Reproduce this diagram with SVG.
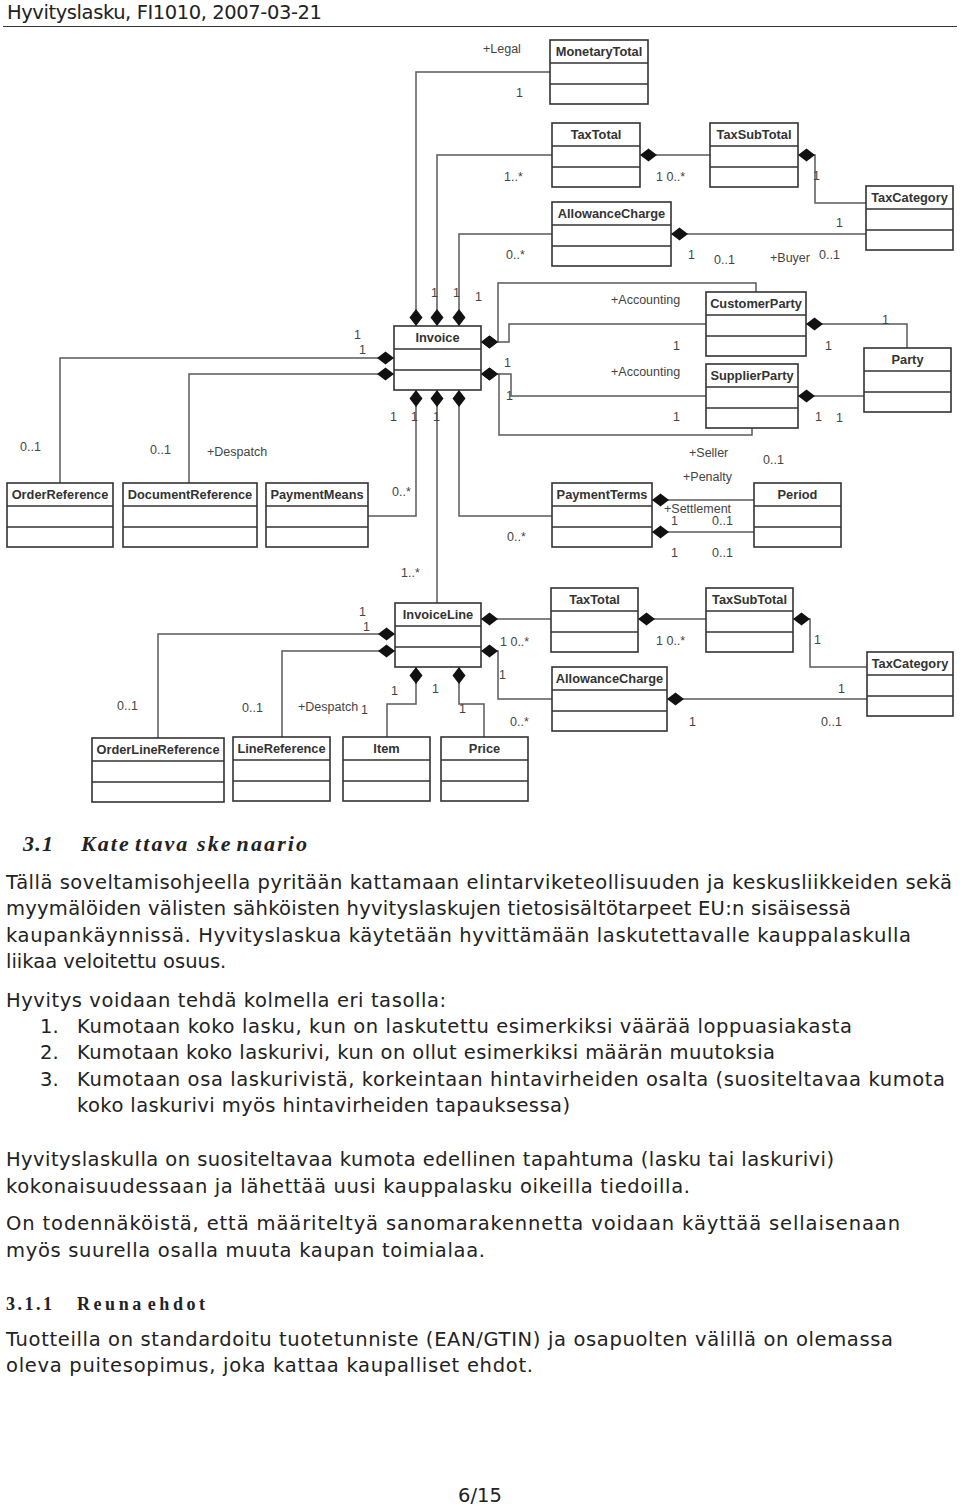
<svg xmlns="http://www.w3.org/2000/svg" width="960" height="1508" viewBox="0 0 960 1508">
<style>
  .cls rect { fill: #ffffff; stroke: #333333; stroke-width: 1.6; }
  .cls path { fill: none; stroke: #333333; stroke-width: 1.6; }
  .cls text { font-family: "Liberation Sans", Arial, sans-serif; font-size: 12.8px; font-weight: bold; fill: #333333; text-anchor: middle; }
  #connectors path { fill: none; stroke: #5a5a5a; stroke-width: 1.5; }
  .lbl { font-family: "Liberation Sans", Arial, sans-serif; font-size: 12.5px; fill: #444444; }
  .body { font-family: "DejaVu Sans", "Liberation Sans", sans-serif; font-size: 19.5px; fill: #222222; }
  .h1 { font-family: "Liberation Serif", "Times New Roman", serif; font-size: 22px; font-weight: bold; font-style: italic; fill: #222222; }
  .h2 { font-family: "Liberation Serif", "Times New Roman", serif; font-size: 18px; font-weight: bold; fill: #222222; }
</style>
<defs>
  <marker id="dia" markerUnits="userSpaceOnUse" markerWidth="18" markerHeight="13" refX="0" refY="6.5" orient="auto" overflow="visible">
    <path d="M0,6.5 L8.5,0 L17,6.5 L8.5,13 Z" fill="#111111" stroke="none"/>
  </marker>
</defs>
<rect x="0" y="0" width="960" height="1508" fill="#ffffff"/>

<!-- page header -->
<text class="body" x="7" y="19" font-size="19" textLength="315" lengthAdjust="spacing">Hyvityslasku, FI1010, 2007-03-21</text>
<path d="M3,26.5 H957" stroke="#333333" stroke-width="1.2" fill="none"/>

<!-- connectors -->
<g id="connectors">
  <path marker-start="url(#dia)" d="M416,326 V72 H550"/>
  <path marker-start="url(#dia)" d="M437,326 V155 H552"/>
  <path marker-start="url(#dia)" d="M459,326 V234 H552"/>
  <path marker-start="url(#dia)" d="M640,155 H710"/>
  <path marker-start="url(#dia)" d="M798,155 H815 V203 H866"/>
  <path marker-start="url(#dia)" d="M671,234 H866"/>
  <path marker-start="url(#dia)" d="M394,358 H60 V483"/>
  <path marker-start="url(#dia)" d="M394,374 H189 V483"/>
  <path marker-start="url(#dia)" d="M416,390 V516 H368"/>
  <path marker-start="url(#dia)" d="M437,390 V603"/>
  <path marker-start="url(#dia)" d="M459,390 V516 H552"/>
  <path marker-start="url(#dia)" d="M481,342 H509 V324 H706"/>
  <path marker-start="url(#dia)" d="M481,342 H498 V283 H756 V292"/>
  <path marker-start="url(#dia)" d="M481,374 H511 V396 H706"/>
  <path marker-start="url(#dia)" d="M481,374 H499 V435 H752 V428"/>
  <path marker-start="url(#dia)" d="M806,324 H907 V348"/>
  <path marker-start="url(#dia)" d="M798,396 H864"/>
  <path marker-start="url(#dia)" d="M652,500 H754"/>
  <path marker-start="url(#dia)" d="M652,532 H754"/>
  <path marker-start="url(#dia)" d="M395,634 H158 V738"/>
  <path marker-start="url(#dia)" d="M395,651 H282 V737"/>
  <path marker-start="url(#dia)" d="M416,667 V704 H387 V737"/>
  <path marker-start="url(#dia)" d="M459,667 V704 H484 V737"/>
  <path marker-start="url(#dia)" d="M481,619 H551"/>
  <path marker-start="url(#dia)" d="M481,651 H498 V699 H552"/>
  <path marker-start="url(#dia)" d="M638,619 H706"/>
  <path marker-start="url(#dia)" d="M793,619 H810 V667 H867"/>
  <path marker-start="url(#dia)" d="M667,699 H867"/>
</g>

<!-- classes -->
<g id="MonetaryTotal" class="cls"><rect x="550" y="40" width="98" height="64"/><path d="M550,63 H648 M550,84 H648"/><text x="599" y="56">MonetaryTotal</text></g>
<g id="TaxTotal" class="cls"><rect x="552" y="123" width="88" height="64"/><path d="M552,146 H640 M552,167 H640"/><text x="596" y="139">TaxTotal</text></g>
<g id="TaxSubTotal" class="cls"><rect x="710" y="123" width="88" height="64"/><path d="M710,146 H798 M710,167 H798"/><text x="754" y="139">TaxSubTotal</text></g>
<g id="TaxCategory" class="cls"><rect x="866" y="186" width="87" height="64"/><path d="M866,209 H953 M866,230 H953"/><text x="909.5" y="202">TaxCategory</text></g>
<g id="AllowanceCharge" class="cls"><rect x="552" y="202" width="119" height="64"/><path d="M552,225 H671 M552,246 H671"/><text x="611.5" y="218">AllowanceCharge</text></g>
<g id="Invoice" class="cls"><rect x="394" y="326" width="87" height="64"/><path d="M394,349 H481 M394,370 H481"/><text x="437.5" y="342">Invoice</text></g>
<g id="CustomerParty" class="cls"><rect x="706" y="292" width="100" height="64"/><path d="M706,315 H806 M706,336 H806"/><text x="756" y="308">CustomerParty</text></g>
<g id="SupplierParty" class="cls"><rect x="706" y="364" width="92" height="64"/><path d="M706,387 H798 M706,408 H798"/><text x="752" y="380">SupplierParty</text></g>
<g id="Party" class="cls"><rect x="864" y="348" width="87" height="64"/><path d="M864,371 H951 M864,392 H951"/><text x="907.5" y="364">Party</text></g>
<g id="OrderReference" class="cls"><rect x="7" y="483" width="106" height="64"/><path d="M7,506 H113 M7,527 H113"/><text x="60" y="499">OrderReference</text></g>
<g id="DocumentReference" class="cls"><rect x="123" y="483" width="134" height="64"/><path d="M123,506 H257 M123,527 H257"/><text x="190" y="499">DocumentReference</text></g>
<g id="PaymentMeans" class="cls"><rect x="266" y="483" width="102" height="64"/><path d="M266,506 H368 M266,527 H368"/><text x="317" y="499">PaymentMeans</text></g>
<g id="PaymentTerms" class="cls"><rect x="552" y="483" width="100" height="64"/><path d="M552,506 H652 M552,527 H652"/><text x="602" y="499">PaymentTerms</text></g>
<g id="Period" class="cls"><rect x="754" y="483" width="87" height="64"/><path d="M754,506 H841 M754,527 H841"/><text x="797.5" y="499">Period</text></g>
<g id="InvoiceLine" class="cls"><rect x="395" y="603" width="86" height="64"/><path d="M395,626 H481 M395,647 H481"/><text x="438" y="619">InvoiceLine</text></g>
<g id="TaxTotal2" class="cls"><rect x="551" y="588" width="87" height="64"/><path d="M551,611 H638 M551,632 H638"/><text x="594.5" y="604">TaxTotal</text></g>
<g id="TaxSubTotal2" class="cls"><rect x="706" y="588" width="87" height="64"/><path d="M706,611 H793 M706,632 H793"/><text x="749.5" y="604">TaxSubTotal</text></g>
<g id="TaxCategory2" class="cls"><rect x="867" y="652" width="86" height="64"/><path d="M867,675 H953 M867,696 H953"/><text x="910" y="668">TaxCategory</text></g>
<g id="AllowanceCharge2" class="cls"><rect x="552" y="667" width="115" height="64"/><path d="M552,690 H667 M552,711 H667"/><text x="609.5" y="683">AllowanceCharge</text></g>
<g id="OrderLineReference" class="cls"><rect x="92" y="738" width="132" height="64"/><path d="M92,761 H224 M92,782 H224"/><text x="158" y="754">OrderLineReference</text></g>
<g id="LineReference" class="cls"><rect x="233" y="737" width="97" height="64"/><path d="M233,760 H330 M233,781 H330"/><text x="281.5" y="753">LineReference</text></g>
<g id="Item" class="cls"><rect x="343" y="737" width="87" height="64"/><path d="M343,760 H430 M343,781 H430"/><text x="386.5" y="753">Item</text></g>
<g id="Price" class="cls"><rect x="441" y="737" width="87" height="64"/><path d="M441,760 H528 M441,781 H528"/><text x="484.5" y="753">Price</text></g>

<!-- connector labels -->
<g id="labels">
  <text class="lbl" x="483" y="53">+Legal</text>
  <text class="lbl" x="516" y="97">1</text>
  <text class="lbl" x="504" y="181">1..*</text>
  <text class="lbl" x="656" y="181">1 0..*</text>
  <text class="lbl" x="813" y="180">1</text>
  <text class="lbl" x="836" y="227">1</text>
  <text class="lbl" x="506" y="259">0..*</text>
  <text class="lbl" x="688" y="259">1</text>
  <text class="lbl" x="714" y="264">0..1</text>
  <text class="lbl" x="770" y="262">+Buyer</text>
  <text class="lbl" x="819" y="259">0..1</text>
  <text class="lbl" x="431" y="297">1</text>
  <text class="lbl" x="453" y="297">1</text>
  <text class="lbl" x="475" y="301">1</text>
  <text class="lbl" x="611" y="304">+Accounting</text>
  <text class="lbl" x="354" y="339">1</text>
  <text class="lbl" x="359" y="354">1</text>
  <text class="lbl" x="673" y="350">1</text>
  <text class="lbl" x="825" y="350">1</text>
  <text class="lbl" x="882" y="324">1</text>
  <text class="lbl" x="611" y="376">+Accounting</text>
  <text class="lbl" x="504" y="367">1</text>
  <text class="lbl" x="506" y="400">1</text>
  <text class="lbl" x="673" y="421">1</text>
  <text class="lbl" x="815" y="421">1</text>
  <text class="lbl" x="836" y="422">1</text>
  <text class="lbl" x="390" y="421">1</text>
  <text class="lbl" x="411" y="421">1</text>
  <text class="lbl" x="433" y="421">1</text>
  <text class="lbl" x="20" y="451">0..1</text>
  <text class="lbl" x="150" y="454">0..1</text>
  <text class="lbl" x="207" y="456">+Despatch</text>
  <text class="lbl" x="392" y="496">0..*</text>
  <text class="lbl" x="689" y="457">+Seller</text>
  <text class="lbl" x="763" y="464">0..1</text>
  <text class="lbl" x="683" y="481">+Penalty</text>
  <text class="lbl" x="664" y="513">+Settlement</text>
  <text class="lbl" x="671" y="525">1</text>
  <text class="lbl" x="712" y="525">0..1</text>
  <text class="lbl" x="671" y="557">1</text>
  <text class="lbl" x="712" y="557">0..1</text>
  <text class="lbl" x="507" y="541">0..*</text>
  <text class="lbl" x="401" y="577">1..*</text>
  <text class="lbl" x="359" y="616">1</text>
  <text class="lbl" x="363" y="631">1</text>
  <text class="lbl" x="500" y="646">1 0..*</text>
  <text class="lbl" x="656" y="645">1 0..*</text>
  <text class="lbl" x="814" y="644">1</text>
  <text class="lbl" x="499" y="679">1</text>
  <text class="lbl" x="838" y="693">1</text>
  <text class="lbl" x="391" y="695">1</text>
  <text class="lbl" x="432" y="693">1</text>
  <text class="lbl" x="117" y="710">0..1</text>
  <text class="lbl" x="242" y="712">0..1</text>
  <text class="lbl" x="298" y="711">+Despatch</text>
  <text class="lbl" x="361" y="714">1</text>
  <text class="lbl" x="459" y="713">1</text>
  <text class="lbl" x="510" y="726">0..*</text>
  <text class="lbl" x="689" y="726">1</text>
  <text class="lbl" x="821" y="726">0..1</text>
</g>

<!-- body text -->
<g id="text">
  <text class="h1" x="23" y="851" textLength="30" lengthAdjust="spacing">3.1</text>
  <text class="h1" x="81" y="851" textLength="226" lengthAdjust="spacing">Kate<tspan dx="4">ttava</tspan> ske<tspan dx="4">naario</tspan></text>
  <text class="body" x="6" y="889" textLength="946" lengthAdjust="spacing">Tällä soveltamisohjeella pyritään kattamaan elintarviketeollisuuden ja keskusliikkeiden sekä</text>
  <text class="body" x="6" y="915" textLength="845" lengthAdjust="spacing">myymälöiden välisten sähköisten hyvityslaskujen tietosisältötarpeet EU:n sisäisessä</text>
  <text class="body" x="6" y="942" textLength="905" lengthAdjust="spacing">kaupankäynnissä. Hyvityslaskua käytetään hyvittämään laskutettavalle kauppalaskulla</text>
  <text class="body" x="6" y="968">liikaa veloitettu osuus.</text>
  <text class="body" x="6" y="1007" textLength="440" lengthAdjust="spacing">Hyvitys voidaan tehdä kolmella eri tasolla:</text>
  <text class="body" x="40" y="1033">1.</text>
  <text class="body" x="77" y="1033" textLength="775" lengthAdjust="spacing">Kumotaan koko lasku, kun on laskutettu esimerkiksi väärää loppuasiakasta</text>
  <text class="body" x="40" y="1059">2.</text>
  <text class="body" x="77" y="1059" textLength="698" lengthAdjust="spacing">Kumotaan koko laskurivi, kun on ollut esimerkiksi määrän muutoksia</text>
  <text class="body" x="40" y="1086">3.</text>
  <text class="body" x="77" y="1086" textLength="868" lengthAdjust="spacing">Kumotaan osa laskurivistä, korkeintaan hintavirheiden osalta (suositeltavaa kumota</text>
  <text class="body" x="77" y="1112" textLength="493" lengthAdjust="spacing">koko laskurivi myös hintavirheiden tapauksessa)</text>
  <text class="body" x="6" y="1166" textLength="828" lengthAdjust="spacing">Hyvityslaskulla on suositeltavaa kumota edellinen tapahtuma (lasku tai laskurivi)</text>
  <text class="body" x="6" y="1193" textLength="684" lengthAdjust="spacing">kokonaisuudessaan ja lähettää uusi kauppalasku oikeilla tiedoilla.</text>
  <text class="body" x="6" y="1230" textLength="894" lengthAdjust="spacing">On todennäköistä, että määriteltyä sanomarakennetta voidaan käyttää sellaisenaan</text>
  <text class="body" x="6" y="1257" textLength="479" lengthAdjust="spacing">myös suurella osalla muuta kaupan toimialaa.</text>
  <text class="h2" x="6" y="1310" textLength="46" lengthAdjust="spacing">3.1.1</text>
  <text class="h2" x="77" y="1310" textLength="128" lengthAdjust="spacing">Reuna<tspan dx="3">ehdot</tspan></text>
  <text class="body" x="6" y="1346" textLength="887" lengthAdjust="spacing">Tuotteilla on standardoitu tuotetunniste (EAN/GTIN) ja osapuolten välillä on olemassa</text>
  <text class="body" x="6" y="1372" textLength="527" lengthAdjust="spacing">oleva puitesopimus, joka kattaa kaupalliset ehdot.</text>
  <text class="body" x="458" y="1502" textLength="44" lengthAdjust="spacing">6/15</text>
</g>
</svg>
